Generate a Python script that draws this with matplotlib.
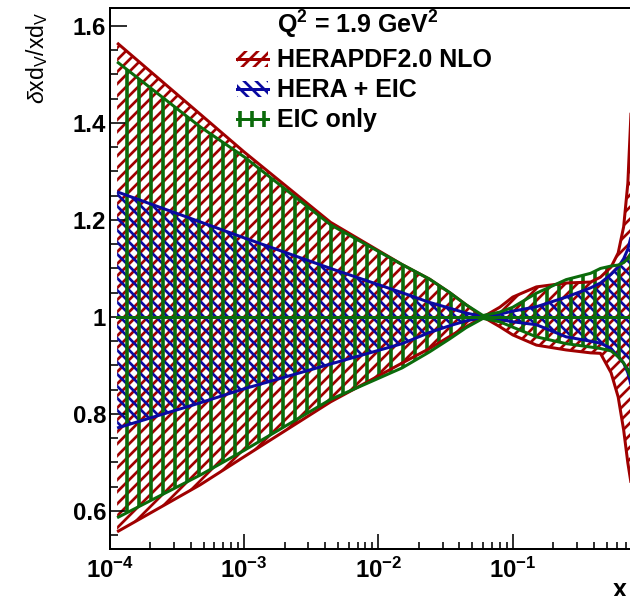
import numpy as np
import matplotlib
matplotlib.use("Agg")
import matplotlib.pyplot as plt
from matplotlib.patches import Rectangle
from matplotlib.lines import Line2D
from matplotlib.collections import LineCollection
from matplotlib.transforms import IdentityTransform
from matplotlib.ticker import FixedLocator, FixedFormatter, MultipleLocator, LogLocator, NullFormatter

plt.rcParams['font.family'] = ['Liberation Sans', 'DejaVu Sans']
plt.rcParams['mathtext.fontset'] = 'custom'
plt.rcParams['mathtext.rm'] = 'Liberation Sans'
plt.rcParams['mathtext.bf'] = 'Liberation Sans:bold'
plt.rcParams['mathtext.it'] = 'Liberation Sans:italic'

# ---------------- data ----------------
x_vals = [1.13e-4, 4.7e-4, 1e-3, 4.4e-3, 1.5e-2, 2.4e-2, 3.4e-2, 4.5e-2, 6e-2, 8e-2, 0.1,
          0.15, 0.25, 0.38, 0.45, 0.54, 0.61, 0.67, 0.72, 0.76, 0.8]

hera_up = [1.565, 1.418, 1.34, 1.195, 1.108, 1.078, 1.05, 1.025, 1.0, 1.02, 1.041,
           1.062, 1.070, 1.072, 1.082, 1.103, 1.132, 1.186, 1.276, 1.421, 1.70]
hera_lo = [0.557, 0.654, 0.712, 0.825, 0.905, 0.935, 0.96, 0.98, 1.0, 0.98, 0.963,
           0.942, 0.932, 0.926, 0.925, 0.885, 0.835, 0.767, 0.699, 0.658, 0.55]

heic_up = [1.258, 1.196, 1.163, 1.10, 1.05, 1.03, 1.018, 1.008, 1.001, 1.006, 1.012,
           1.021, 1.041, 1.06, 1.07, 1.088, 1.103, 1.12, 1.14, 1.165, 1.25]
heic_lo = [0.771, 0.823, 0.852, 0.903, 0.945, 0.968, 0.982, 0.992, 0.999, 0.995, 0.99,
           0.984, 0.959, 0.95, 0.946, 0.935, 0.918, 0.905, 0.885, 0.86, 0.8]

eic_up = [1.526, 1.392, 1.33, 1.19, 1.108, 1.078, 1.05, 1.025, 1.003, 1.01, 1.02,
          1.049, 1.077, 1.09, 1.10, 1.105, 1.107, 1.112, 1.12, 1.132, 1.2]
eic_lo = [0.586, 0.674, 0.725, 0.83, 0.895, 0.928, 0.955, 0.978, 0.997, 0.99, 0.979,
          0.959, 0.945, 0.938, 0.935, 0.93, 0.918, 0.905, 0.89, 0.875, 0.83]

series_labels = ['HERAPDF2.0 NLO', 'HERA + EIC', 'EIC only']
title_text = r'Q$^{\mathbf{2}}$ = 1.9 GeV$^{\mathbf{2}}$'

ytick_vals = [0.6, 0.8, 1.0, 1.2, 1.4, 1.6]
ytick_labels = ['0.6', '0.8', '1', '1.2', '1.4', '1.6']
xtick_vals = [1e-4, 1e-3, 1e-2, 1e-1, 1.0]
xtick_labels = [r'$\mathbf{10^{-4}}$', r'$\mathbf{10^{-3}}$', r'$\mathbf{10^{-2}}$',
                r'$\mathbf{10^{-1}}$', r'$\mathbf{1}$']

# ---------------- style ----------------
RED = '#a00000'
BLUE = '#0a0aa0'
GREEN = '#0b6b0b'
SPACING = 12  # hatch spacing in pixels

W, H = 630, 596
DPI = 72
fig = plt.figure(figsize=(W / DPI, H / DPI), dpi=DPI)
fig.patch.set_facecolor('white')

ax = fig.add_axes([110 / W, 47 / H, 537 / W, 541 / H])
ax.set_xscale('log')
ax.set_xlim(1e-4, 1.0)
ax.set_ylim(0.5216, 1.637)


def hatch_segments(kind, offset=0.0):
    segs = []
    span = W + H
    for c in np.arange(-span, span, SPACING) + offset:
        if kind == '/':
            segs.append([(c, -10), (c + H + 20, H + 10)])
        elif kind == '\\':
            segs.append([(c, -10), (c - H - 20, H + 10)])
        else:
            segs.append([(c, -10), (c, H + 10)])
    return segs


def hatch_in(target_ax, clip_artist, clip_trans, kind, color, lw, z, offset=0.0, box=True):
    lc = LineCollection(hatch_segments(kind, offset), colors=color, linewidths=lw,
                        transform=IdentityTransform(), zorder=z, capstyle='butt')
    target_ax.add_collection(lc, autolim=False)
    if box:
        lc.set_clip_box(target_ax.bbox)
    if clip_trans is None:
        lc.set_clip_path(clip_artist)
    else:
        lc.set_clip_path(clip_artist, clip_trans)
    return lc


bands = [(hera_up, hera_lo, RED, '/', 2.7, 5.0),
         (heic_up, heic_lo, BLUE, '\\', 2.7, 3.0),
         (eic_up, eic_lo, GREEN, '|', 3.6, 9.0)]

z = 1
for up, lo, c, kind, hlw, off in bands:
    poly = ax.fill_between(x_vals, lo, up, facecolor='none', edgecolor='none', linewidth=0, zorder=z)
    hatch_in(ax, poly.get_paths()[0], ax.transData, kind, c, hlw, z + 0.5, off)
    z += 1

for up, lo, c, kind, hlw, off in bands:
    ax.plot(x_vals, up, color=c, lw=3, zorder=z, solid_capstyle='butt')
    ax.plot(x_vals, lo, color=c, lw=3, zorder=z, solid_capstyle='butt')
    ax.plot([x_vals[0], x_vals[-1]], [1.0, 1.0], color=c, lw=3, zorder=z)
    z += 1

# axes / ticks
for s in ['left', 'bottom', 'top', 'right']:
    ax.spines[s].set_linewidth(2)
    ax.spines[s].set_color('black')
    ax.spines[s].set_zorder(20)

ax.yaxis.set_major_locator(FixedLocator(ytick_vals))
ax.yaxis.set_major_formatter(FixedFormatter(ytick_labels))
ax.yaxis.set_minor_locator(MultipleLocator(0.05))
ax.xaxis.set_major_locator(FixedLocator(xtick_vals))
ax.xaxis.set_major_formatter(FixedFormatter(xtick_labels))
ax.xaxis.set_minor_locator(LogLocator(base=10, subs=[2, 3, 4, 5, 6, 7, 8, 9], numticks=20))
ax.xaxis.set_minor_formatter(NullFormatter())

ax.tick_params(axis='both', which='both', direction='in', top=False, right=False,
               width=1.6, color='black')
ax.tick_params(axis='y', which='major', length=17, pad=4, labelsize=24)
ax.tick_params(axis='y', which='minor', length=8)
ax.tick_params(axis='x', which='major', length=15, pad=9, labelsize=24)
ax.tick_params(axis='x', which='minor', length=7)
for lab in ax.get_yticklabels():
    lab.set_fontweight('bold')

# axis titles
fig.text(37 / W, 1 - 12 / H, r'$\delta$xd$_{\mathrm{V}}$/xd$_{\mathrm{V}}$', rotation=90,
         ha='center', va='top', fontsize=23)
fig.text(620 / W, 1 - 590 / H, 'x', ha='center', va='center', fontsize=25, fontweight='bold')

# legend (overlay in pixel coordinates)
lax = fig.add_axes([0, 0, 1, 1], zorder=10)
lax.set_xlim(0, W)
lax.set_ylim(H, 0)
lax.axis('off')
lax.patch.set_alpha(0)

lax.text(277, 34, title_text, fontsize=25, fontweight='bold', ha='left', va='baseline')
rows = [(67, RED, '/', 2.7, 5.0), (97, BLUE, '\\', 2.7, 3.0), (127, GREEN, '|', 3.6, 2.0)]
for (base, c, kind, hlw, off), lab in zip(rows, series_labels):
    cy = base - 8
    r = Rectangle((237, cy - 8), 31, 16, facecolor='none', edgecolor='none', linewidth=0)
    lax.add_patch(r)
    hatch_in(lax, r, None, kind, c, hlw, 11, off, box=False)
    lax.add_line(Line2D([237, 268], [cy, cy], color=c, lw=3, zorder=12))
    lax.text(277, base, lab, fontsize=25, fontweight='bold', ha='left', va='baseline')

fig.savefig('out.png', dpi=DPI, facecolor='white')
